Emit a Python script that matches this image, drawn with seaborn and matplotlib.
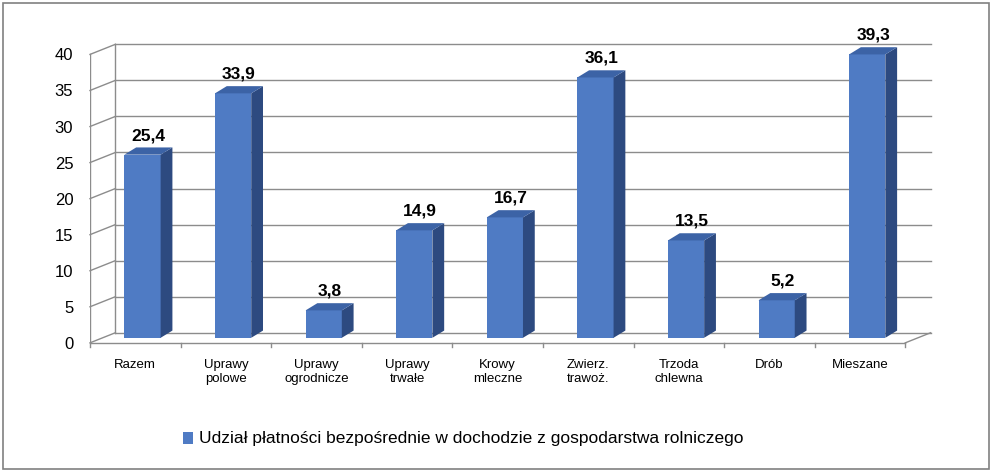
import matplotlib
matplotlib.use("Agg")
import matplotlib.pyplot as plt
import seaborn as sns
import pandas as pd
from matplotlib.patches import Polygon, Rectangle

categories = ["Razem", "Uprawy\npolowe", "Uprawy\nogrodnicze", "Uprawy\ntrwałe", "Krowy\nmleczne",
              "Zwierz.\ntrawoż.", "Trzoda\nchlewna", "Drób", "Mieszane"]
values = [25.4, 33.9, 3.8, 14.9, 16.7, 36.1, 13.5, 5.2, 39.3]
labels = ["25,4", "33,9", "3,8", "14,9", "16,7", "36,1", "13,5", "5,2", "39,3"]
yticks = [0, 5, 10, 15, 20, 25, 30, 35, 40]
series_name = "Udział płatności bezpośrednie w dochodzie z gospodarstwa rolniczego"

plt.rcParams["font.family"] = "Liberation Sans"
df = pd.DataFrame({"cat": categories, "val": values})

fig = plt.figure(figsize=(9.92, 4.71), dpi=100)
ax = fig.add_axes([0.0907, 0.2675, 0.852, 0.669])
front, side, top = "#4f7bc4", "#2d4a80", "#3c63a6"
sns.barplot(data=df, x="cat", y="val", color=front, width=0.40, saturation=1, ax=ax, zorder=3)

DX, DY = 0.28, 1.4      # back wall offset
bdx, bdy = 0.13, 1.0    # bar depth
SX, SY = 0.08, 0.7      # bar placement inside depth
ax.set_xlim(-0.5, 8.5 + DX + 0.05)
ax.set_ylim(-0.3, 43.4)
gc = "#8c8c8c"
for t in yticks:
    ax.plot([-0.5, -0.5 + DX], [t, t + DY], color=gc, lw=1, zorder=1, clip_on=False)
    ax.plot([-0.5 + DX, 8.5 + DX], [t + DY, t + DY], color=gc, lw=1, zorder=1)
ax.plot([-0.5, 8.5], [0, 0], color=gc, lw=1, zorder=1)
ax.plot([8.5, 8.5 + DX], [0, DY], color=gc, lw=1, zorder=1)
ax.plot([-0.5, -0.5], [0, 40], color=gc, lw=1, zorder=1)
ax.plot([-0.5 + DX, -0.5 + DX], [DY, 40 + DY], color=gc, lw=1, zorder=1)
for i in range(10):
    x = -0.5 + i
    ax.plot([x, x], [0, -0.6], color=gc, lw=1, zorder=1, clip_on=False)

for p, lab in zip(ax.patches, labels):
    p.set_x(p.get_x() + SX)
    p.set_y(SY)
    x0, w, h = p.get_x(), p.get_width(), p.get_height()
    x1 = x0 + w
    b, tp = SY, SY + h
    ax.add_patch(Polygon([(x1, b), (x1 + bdx, b + bdy), (x1 + bdx, tp + bdy), (x1, tp)],
                         closed=True, fc=side, ec="none", zorder=3))
    ax.add_patch(Polygon([(x0, tp), (x0 + bdx, tp + bdy), (x1 + bdx, tp + bdy), (x1, tp)],
                         closed=True, fc=top, ec="none", zorder=3))
    ax.text(x0 + w / 2 + bdx / 2, tp + bdy + 0.6, lab, ha="center", va="bottom",
            fontsize=12.5, fontweight="bold", zorder=4)

ax.set_yticks(yticks)
ax.set_yticklabels([str(t) for t in yticks], fontsize=12)
ax.tick_params(axis="y", length=0, pad=12)
ax.tick_params(axis="x", length=0, pad=10, labelsize=9.5)
ax.set_xlabel("")
ax.set_ylabel("")
for s in ax.spines.values():
    s.set_visible(False)
ax.grid(False)

fig.patches.append(Rectangle((0.003, 0.004), 0.994, 0.99, transform=fig.transFigure,
                             fill=False, ec="#808080", lw=1.2))
fig.patches.append(Rectangle((0.184, 0.058), 0.011, 0.024, transform=fig.transFigure,
                             fc=front, ec="none"))
fig.text(0.201, 0.07, series_name, fontsize=12.5, va="center", ha="left")
fig.savefig("out.png", dpi=100)
